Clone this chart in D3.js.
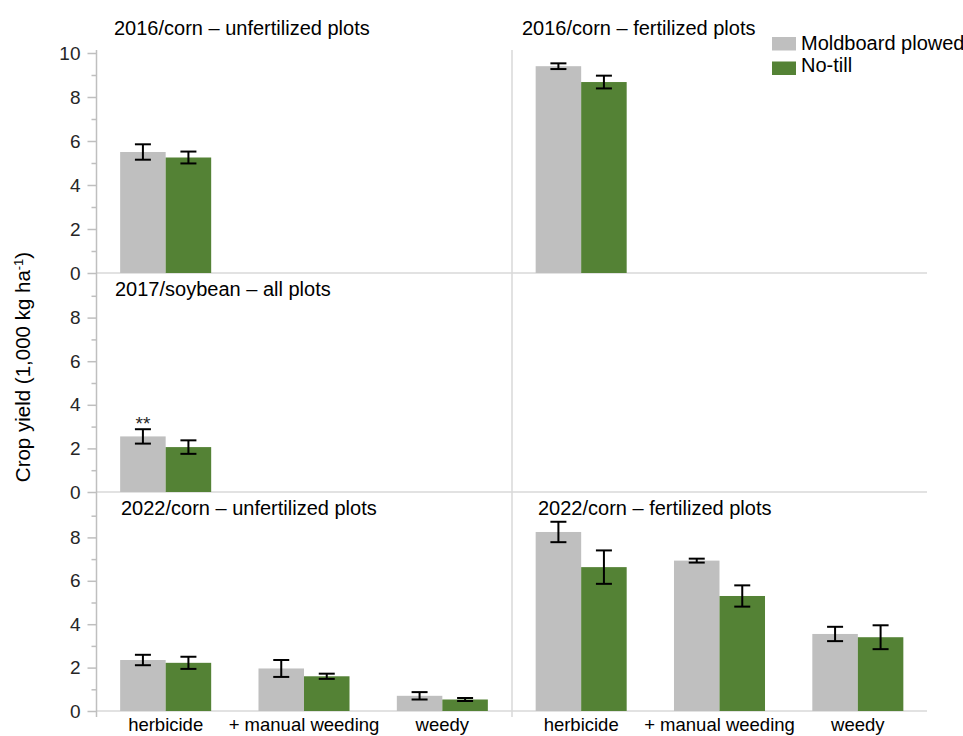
<!DOCTYPE html>
<html>
<head>
<meta charset="utf-8">
<script src="https://cdn.jsdelivr.net/npm/d3@7"></script>
<style>
  html, body { margin: 0; padding: 0; background: #fff; }
  svg { display: block; font-family: "Liberation Sans", Arial, sans-serif; }
</style>
</head>
<body>
<script>
// ---------------- DATA ----------------
const categories = ["herbicide", "+ manual weeding", "weedy"];
const seriesNames = ["Moldboard plowed", "No-till"];
const panelTitles = [
  "2016/corn \u2013 unfertilized plots",
  "2016/corn \u2013 fertilized plots",
  "2017/soybean \u2013 all plots",
  "2022/corn \u2013 unfertilized plots",
  "2022/corn \u2013 fertilized plots"
];
const majorTicksTop = [0, 2, 4, 6, 8, 10];
const majorTicks = [0, 2, 4, 6, 8];
const minorTicks = [1, 3, 5, 7, 9];
const yAxisTitle = "Crop yield (1,000 kg ha";
const yAxisSup = "-1";

// 2016 corn, unfertilized (herbicide only)
const corn2016UnfertMoldboard = [5.5];
const corn2016UnfertMoldboardErr = [0.35];
const corn2016UnfertNoTill = [5.25];
const corn2016UnfertNoTillErr = [0.27];
// 2016 corn, fertilized
const corn2016FertMoldboard = [9.4];
const corn2016FertMoldboardErr = [0.13];
const corn2016FertNoTill = [8.68];
const corn2016FertNoTillErr = [0.29];
// 2017 soybean, all plots
const soy2017Moldboard = [2.55];
const soy2017MoldboardErr = [0.33];
const soy2017NoTill = [2.06];
const soy2017NoTillErr = [0.31];
const soy2017Signif = ["**"];
// 2022 corn, unfertilized
const corn2022UnfertMoldboard = [2.35, 1.96, 0.7];
const corn2022UnfertMoldboardErr = [0.24, 0.39, 0.17];
const corn2022UnfertNoTill = [2.22, 1.6, 0.53];
const corn2022UnfertNoTillErr = [0.28, 0.12, 0.07];
// 2022 corn, fertilized
const corn2022FertMoldboard = [8.25, 6.93, 3.55];
const corn2022FertMoldboardErr = [0.47, 0.09, 0.33];
const corn2022FertNoTill = [6.63, 5.3, 3.4];
const corn2022FertNoTillErr = [0.77, 0.49, 0.55];

// ---------------- LAYOUT ----------------
const W = 963, H = 736;
const colors = { "Moldboard plowed": "#bfbfbf", "No-till": "#548235" };
const colX = [96.5, 512];
const panelW = 415;
const rowY = [[273, 53], [492, 274], [711, 494]];
const axisTop = 50, axisBottom = 717;

const panels = [
  { title: panelTitles[0], row: 0, col: 0, mb: corn2016UnfertMoldboard, mbE: corn2016UnfertMoldboardErr, nt: corn2016UnfertNoTill, ntE: corn2016UnfertNoTillErr, tx: 17.5, ty: 35 },
  { title: panelTitles[1], row: 0, col: 1, mb: corn2016FertMoldboard, mbE: corn2016FertMoldboardErr, nt: corn2016FertNoTill, ntE: corn2016FertNoTillErr, tx: 10, ty: 35 },
  { title: panelTitles[2], row: 1, col: 0, mb: soy2017Moldboard, mbE: soy2017MoldboardErr, nt: soy2017NoTill, ntE: soy2017NoTillErr, sig: soy2017Signif, tx: 18.5, ty: 296 },
  { title: panelTitles[3], row: 2, col: 0, mb: corn2022UnfertMoldboard, mbE: corn2022UnfertMoldboardErr, nt: corn2022UnfertNoTill, ntE: corn2022UnfertNoTillErr, tx: 24.5, ty: 515 },
  { title: panelTitles[4], row: 2, col: 1, mb: corn2022FertMoldboard, mbE: corn2022FertMoldboardErr, nt: corn2022FertNoTill, ntE: corn2022FertNoTillErr, tx: 26, ty: 515 }
];

const svg = d3.select("body").append("svg").attr("width", W).attr("height", H);

const yScales = rowY.map(r => d3.scaleLinear().domain([0, 10]).range(r));

// horizontal baselines
rowY.forEach((r, i) => {
  svg.append("line")
    .attr("x1", colX[0]).attr("x2", colX[1] + panelW)
    .attr("y1", yScales[i](0)).attr("y2", yScales[i](0))
    .attr("stroke", "#d9d9d9").attr("stroke-width", 1.5);
});
// right panel divider axis
svg.append("line")
  .attr("x1", colX[1]).attr("x2", colX[1])
  .attr("y1", axisTop).attr("y2", axisBottom)
  .attr("stroke", "#d9d9d9").attr("stroke-width", 1.5);
// left axis line
svg.append("line")
  .attr("x1", colX[0]).attr("x2", colX[0])
  .attr("y1", axisTop).attr("y2", axisBottom)
  .attr("stroke", "#bfbfbf").attr("stroke-width", 1.5);

// y axes with ticks
rowY.forEach((r, i) => {
  const y = yScales[i];
  const gMaj = svg.append("g").attr("transform", `translate(${colX[0]},0)`)
    .call(d3.axisLeft(y).tickValues(i === 0 ? majorTicksTop : majorTicks).tickSize(9).tickPadding(7).tickFormat(d3.format("d")));
  gMaj.select(".domain").remove();
  gMaj.selectAll("line").attr("stroke", "#bfbfbf").attr("stroke-width", 1.5);
  gMaj.selectAll("text").attr("fill", "#262626").style("font-size", "19px")
    .style("font-family", "'Liberation Sans', Arial, sans-serif");
  const gMin = svg.append("g").attr("transform", `translate(${colX[0]},0)`)
    .call(d3.axisLeft(y).tickValues(minorTicks).tickSize(5).tickFormat(""));
  gMin.select(".domain").remove();
  gMin.selectAll("line").attr("stroke", "#bfbfbf").attr("stroke-width", 1.5);
});

// panels
panels.forEach(p => {
  const x0 = colX[p.col];
  const y = yScales[p.row];
  const x = d3.scaleBand().domain(categories).range([x0, x0 + panelW]).paddingInner(0.342).paddingOuter(0.171);
  const xs = d3.scaleBand().domain(seriesNames).range([0, x.bandwidth()]);
  const rows = [];
  p.mb.forEach((v, i) => {
    rows.push({ cat: categories[i], s: seriesNames[0], v: v, e: p.mbE[i], sig: p.sig ? p.sig[i] : null });
    rows.push({ cat: categories[i], s: seriesNames[1], v: p.nt[i], e: p.ntE[i], sig: null });
  });
  const g = svg.append("g");
  g.selectAll("rect").data(rows).join("rect")
    .attr("x", d => x(d.cat) + xs(d.s))
    .attr("width", xs.bandwidth())
    .attr("y", d => y(d.v))
    .attr("height", d => y(0) - y(d.v))
    .attr("fill", d => colors[d.s]);
  const cap = 8;
  const eb = g.selectAll("g.err").data(rows).join("g").attr("class", "err")
    .attr("stroke", "#000").attr("stroke-width", 2);
  eb.append("line")
    .attr("x1", d => x(d.cat) + xs(d.s) + xs.bandwidth() / 2)
    .attr("x2", d => x(d.cat) + xs(d.s) + xs.bandwidth() / 2)
    .attr("y1", d => y(d.v + d.e)).attr("y2", d => y(d.v - d.e));
  eb.append("line")
    .attr("x1", d => x(d.cat) + xs(d.s) + xs.bandwidth() / 2 - cap)
    .attr("x2", d => x(d.cat) + xs(d.s) + xs.bandwidth() / 2 + cap)
    .attr("y1", d => y(d.v + d.e)).attr("y2", d => y(d.v + d.e));
  eb.append("line")
    .attr("x1", d => x(d.cat) + xs(d.s) + xs.bandwidth() / 2 - cap)
    .attr("x2", d => x(d.cat) + xs(d.s) + xs.bandwidth() / 2 + cap)
    .attr("y1", d => y(d.v - d.e)).attr("y2", d => y(d.v - d.e));
  g.selectAll("text.sig").data(rows.filter(d => d.sig)).join("text").attr("class", "sig")
    .attr("x", d => x(d.cat) + xs(d.s) + xs.bandwidth() / 2)
    .attr("y", d => y(d.v + d.e) + 0.5)
    .attr("text-anchor", "middle")
    .style("font-size", "19px").attr("fill", "#262626")
    .text(d => d.sig);
  // title
  svg.append("text").attr("x", x0 + p.tx).attr("y", p.ty)
    .style("font-size", "20px").attr("fill", "#000").text(p.title);
  // category labels for bottom row
  if (p.row === 2) {
    svg.append("g").selectAll("text").data(categories).join("text")
      .attr("x", d => x(d) + x.bandwidth() / 2)
      .attr("y", 731)
      .attr("text-anchor", "middle")
      .style("font-size", "18.5px").attr("fill", "#000")
      .text(d => d);
  }
});

// y axis title
const yt = svg.append("text")
  .attr("transform", "translate(30,367) rotate(-90)")
  .attr("text-anchor", "middle")
  .style("font-size", "20.5px").attr("fill", "#000");
yt.append("tspan").text(yAxisTitle);
yt.append("tspan").attr("dy", -7).style("font-size", "13px").text(yAxisSup);
yt.append("tspan").attr("dy", 7).text(")");

// legend
const lg = svg.append("g").attr("transform", "translate(772,37)");
seriesNames.forEach((s, i) => {
  lg.append("rect").attr("x", 0).attr("y", i * 24.5).attr("width", 24).attr("height", 13.5).attr("fill", colors[s]);
  lg.append("text").attr("x", 29).attr("y", i * 22 + 13).style("font-size", "20px").attr("fill", "#000").text(s);
});
</script>
</body>
</html>
